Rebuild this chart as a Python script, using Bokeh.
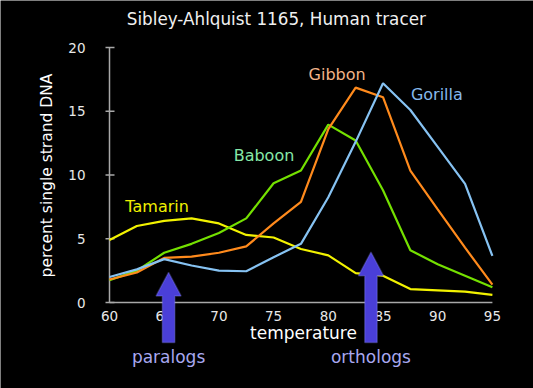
from bokeh.plotting import figure
from bokeh.models import Label, PolyAnnotation, ColumnDataSource
from bokeh.core.properties import value
from bokeh.embed import file_html
from bokeh.resources import INLINE

# ---- data ----
temperature = [60, 62.5, 65, 67.5, 70, 72.5, 75, 77.5, 80, 82.5, 85, 87.5, 90, 92.5, 95]
tamarin = [4.9, 6.0, 6.4, 6.6, 6.2, 5.3, 5.1, 4.2, 3.7, 2.3, 2.1, 1.05, 0.95, 0.85, 0.6]
baboon = [1.75, 2.5, 3.9, 4.6, 5.45, 6.6, 9.35, 10.35, 13.95, 12.7, 8.8, 4.1, 3.0, 2.1, 1.2]
gibbon = [1.8, 2.35, 3.5, 3.6, 3.9, 4.4, 6.2, 7.9, 13.6, 16.85, 16.1, 10.35, 7.3, 4.3, 1.4]
gorilla = [2.0, 2.6, 3.4, 2.9, 2.5, 2.45, 3.55, 4.6, 8.25, 12.6, 17.2, 15.1, 12.2, 9.3, 3.65]

x_ticks = [60, 65, 70, 75, 80, 85, 90, 95]
y_ticks = [0, 5, 10, 15, 20]

series_names = ["Tamarin", "Baboon", "Gibbon", "Gorilla"]
arrow_names = ["paralogs", "orthologs"]
arrow_x = [65.4, 83.9]
arrow_tip = [2.36, 3.95]

title_text = "Sibley-Ahlquist 1165, Human tracer"
x_label = "temperature"
y_label = "percent single strand DNA"

# ---- layout / styles ----
W, H = 533, 388
PX_X = 10.94          # px per degree
PX_Y = 12.75          # px per percent
X0_PX, Y0_PX = 109, 302   # canvas position of (60, 0)
FONT = "DejaVu Sans"
AXIS_COL = "#a8a8a8"
TICK_COL = "#e8e8e8"
line_colors = ["#f2f200", "#74e000", "#ff8a1c", "#86c2f2"]
label_colors = ["#f0f000", "#86e8a8", "#f2b488", "#86b8ec"]
label_pos = [(61.45, 7.55), (71.35, 11.56), (78.2, 17.92), (87.55, 16.35)]

xmin, ymin = x_ticks[0], y_ticks[0]
x_range = (xmin - X0_PX / PX_X, xmin + (W - X0_PX) / PX_X)
y_range = (ymin - (H - Y0_PX) / PX_Y, ymin + Y0_PX / PX_Y)

p = figure(width=W, height=H, x_range=x_range, y_range=y_range,
           output_backend="svg", toolbar_location=None,
           min_border=0, min_border_left=0, min_border_right=0,
           min_border_top=0, min_border_bottom=0)
p.background_fill_color = "black"
p.border_fill_color = "black"
p.outline_line_color = None
p.grid.visible = False
p.axis.visible = False

# axes drawn through the data scales
p.segment(x0=[xmin], y0=[ymin], x1=[x_ticks[-1]], y1=[ymin], line_color=AXIS_COL, line_width=1.5)
p.segment(x0=[xmin], y0=[ymin], x1=[xmin], y1=[y_ticks[-1]], line_color=AXIS_COL, line_width=1.5)
p.segment(x0=[xmin - 4 / PX_X] * len(y_ticks), y0=y_ticks,
          x1=[xmin + 5 / PX_X] * len(y_ticks), y1=y_ticks,
          line_color=AXIS_COL, line_width=1.5)
p.text(x=[xmin - 24 / PX_X] * len(y_ticks), y=y_ticks, text=[str(t) for t in y_ticks],
       text_font=value(FONT), text_font_size=value("13.5px"), text_color=TICK_COL,
       text_align="right", text_baseline="middle")
p.text(x=x_ticks, y=[ymin - 13 / PX_Y] * len(x_ticks), text=[str(t) for t in x_ticks],
       text_font=value(FONT), text_font_size=value("13.5px"), text_color=TICK_COL,
       text_align="center", text_baseline="middle")

src = ColumnDataSource(dict(t=temperature, Tamarin=tamarin, Baboon=baboon,
                            Gibbon=gibbon, Gorilla=gorilla))
for name, col in zip(series_names, line_colors):
    p.line("t", name, source=src, line_color=col, line_width=2.2)

for name, col, (lx, ly) in zip(series_names, label_colors, label_pos):
    p.add_layout(Label(x=lx, y=ly, text=name, text_color=col, text_font=FONT,
                       text_font_size="16px", text_baseline="middle", text_align="left"))

# arrows
head_half = 12.5 / PX_X
shaft_half = 6.2 / PX_X
head_h = 23.5 / PX_Y
bottom = ymin - 40 / PX_Y
for name, ax_, tip in zip(arrow_names, arrow_x, arrow_tip):
    xs = [ax_, ax_ + head_half, ax_ + shaft_half, ax_ + shaft_half,
          ax_ - shaft_half, ax_ - shaft_half, ax_ - head_half]
    ys = [tip, tip - head_h, tip - head_h, bottom, bottom, tip - head_h, tip - head_h]
    p.add_layout(PolyAnnotation(xs=xs, ys=ys, fill_color="#4a3fd8", fill_alpha=1.0,
                                line_color="#8c8cff", line_width=1.5))
    p.add_layout(Label(x=ax_, y=ymin - 54 / PX_Y, text=name, text_color="#a8a8f0",
                       text_font=FONT, text_font_size="17px",
                       text_baseline="middle", text_align="center"))

p.add_layout(Label(x=xmin + 166.8 / PX_X, y=ymin + 283.7 / PX_Y, text=title_text,
                   text_color="#f0f0f0", text_font=FONT, text_font_size="16.8px",
                   text_baseline="middle", text_align="center"))
p.add_layout(Label(x=xmin + 194 / PX_X, y=ymin - 30 / PX_Y, text=x_label,
                   text_color="white", text_font=FONT, text_font_size="17px",
                   text_baseline="middle", text_align="center"))
p.add_layout(Label(x=xmin - 62.3 / PX_X, y=ymin + 127 / PX_Y, text=y_label,
                   text_color="white", text_font=FONT, text_font_size="15.5px",
                   text_baseline="middle", text_align="center", angle=1.5708))

open("out.html", "w").write(file_html(p, INLINE))
